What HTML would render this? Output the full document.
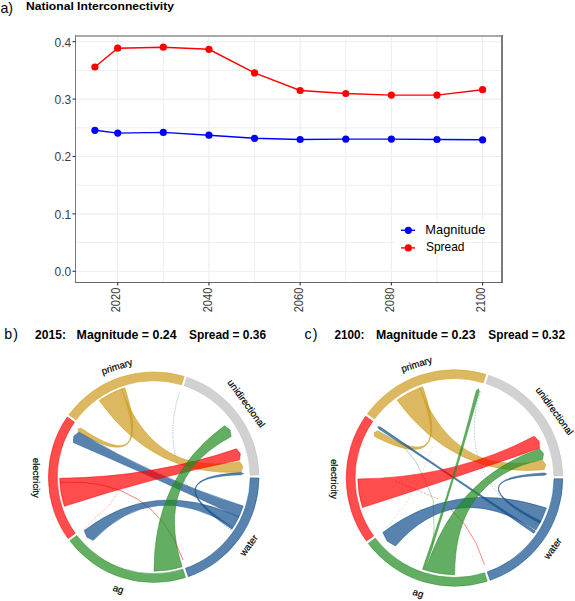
<!DOCTYPE html>
<html><head><meta charset="utf-8"><style>
html,body{margin:0;padding:0;background:#fff;}
svg{display:block;font-family:"Liberation Sans", sans-serif;}
</style></head><body>
<svg width="575" height="601" viewBox="0 0 575 601">
<rect width="575" height="601" fill="#fff"/>
<line x1="163.31" y1="36" x2="163.31" y2="282.5" stroke="#efefef" stroke-width="1"/>
<line x1="254.53" y1="36" x2="254.53" y2="282.5" stroke="#efefef" stroke-width="1"/>
<line x1="345.75" y1="36" x2="345.75" y2="282.5" stroke="#efefef" stroke-width="1"/>
<line x1="436.97" y1="36" x2="436.97" y2="282.5" stroke="#efefef" stroke-width="1"/>
<line x1="75.5" y1="242.60" x2="502" y2="242.60" stroke="#efefef" stroke-width="1"/>
<line x1="75.5" y1="185.20" x2="502" y2="185.20" stroke="#efefef" stroke-width="1"/>
<line x1="75.5" y1="127.80" x2="502" y2="127.80" stroke="#efefef" stroke-width="1"/>
<line x1="75.5" y1="70.40" x2="502" y2="70.40" stroke="#efefef" stroke-width="1"/>
<line x1="117.70" y1="36" x2="117.70" y2="282.5" stroke="#ededed" stroke-width="1.1"/>
<line x1="208.92" y1="36" x2="208.92" y2="282.5" stroke="#ededed" stroke-width="1.1"/>
<line x1="300.14" y1="36" x2="300.14" y2="282.5" stroke="#ededed" stroke-width="1.1"/>
<line x1="391.36" y1="36" x2="391.36" y2="282.5" stroke="#ededed" stroke-width="1.1"/>
<line x1="482.58" y1="36" x2="482.58" y2="282.5" stroke="#ededed" stroke-width="1.1"/>
<line x1="75.5" y1="271.30" x2="502" y2="271.30" stroke="#ededed" stroke-width="1.1"/>
<line x1="75.5" y1="213.90" x2="502" y2="213.90" stroke="#ededed" stroke-width="1.1"/>
<line x1="75.5" y1="156.50" x2="502" y2="156.50" stroke="#ededed" stroke-width="1.1"/>
<line x1="75.5" y1="99.10" x2="502" y2="99.10" stroke="#ededed" stroke-width="1.1"/>
<line x1="75.5" y1="41.70" x2="502" y2="41.70" stroke="#ededed" stroke-width="1.1"/>
<rect x="395" y="220" width="95" height="17" fill="#fff"/>
<rect x="395" y="237" width="70" height="19" fill="#fff"/>
<line x1="75.5" y1="36" x2="502" y2="36" stroke="#a9a9a9" stroke-width="2"/>
<line x1="502" y1="35" x2="502" y2="283" stroke="#7a7a7a" stroke-width="2"/>
<line x1="75.5" y1="35" x2="75.5" y2="283" stroke="#787878" stroke-width="1"/>
<line x1="75" y1="282.5" x2="503" y2="282.5" stroke="#666" stroke-width="1"/>
<line x1="72.5" y1="271.30" x2="75.5" y2="271.30" stroke="#333" stroke-width="1.1"/>
<text x="71.3" y="276.20" font-size="12" fill="#3d3d3d" text-anchor="end">0.0</text>
<line x1="72.5" y1="213.90" x2="75.5" y2="213.90" stroke="#333" stroke-width="1.1"/>
<text x="71.3" y="218.80" font-size="12" fill="#3d3d3d" text-anchor="end">0.1</text>
<line x1="72.5" y1="156.50" x2="75.5" y2="156.50" stroke="#333" stroke-width="1.1"/>
<text x="71.3" y="161.40" font-size="12" fill="#3d3d3d" text-anchor="end">0.2</text>
<line x1="72.5" y1="99.10" x2="75.5" y2="99.10" stroke="#333" stroke-width="1.1"/>
<text x="71.3" y="104.00" font-size="12" fill="#3d3d3d" text-anchor="end">0.3</text>
<line x1="72.5" y1="41.70" x2="75.5" y2="41.70" stroke="#333" stroke-width="1.1"/>
<text x="71.3" y="46.60" font-size="12" fill="#3d3d3d" text-anchor="end">0.4</text>
<line x1="117.70" y1="282.5" x2="117.70" y2="285.5" stroke="#333" stroke-width="1.1"/>
<text transform="translate(120.30,287.7) rotate(-90)" font-size="12" fill="#3d3d3d" text-anchor="end" textLength="24.6" lengthAdjust="spacingAndGlyphs">2020</text>
<line x1="208.92" y1="282.5" x2="208.92" y2="285.5" stroke="#333" stroke-width="1.1"/>
<text transform="translate(211.52,287.7) rotate(-90)" font-size="12" fill="#3d3d3d" text-anchor="end" textLength="24.6" lengthAdjust="spacingAndGlyphs">2040</text>
<line x1="300.14" y1="282.5" x2="300.14" y2="285.5" stroke="#333" stroke-width="1.1"/>
<text transform="translate(302.74,287.7) rotate(-90)" font-size="12" fill="#3d3d3d" text-anchor="end" textLength="24.6" lengthAdjust="spacingAndGlyphs">2060</text>
<line x1="391.36" y1="282.5" x2="391.36" y2="285.5" stroke="#333" stroke-width="1.1"/>
<text transform="translate(393.96,287.7) rotate(-90)" font-size="12" fill="#3d3d3d" text-anchor="end" textLength="24.6" lengthAdjust="spacingAndGlyphs">2080</text>
<line x1="482.58" y1="282.5" x2="482.58" y2="285.5" stroke="#333" stroke-width="1.1"/>
<text transform="translate(485.18,287.7) rotate(-90)" font-size="12" fill="#3d3d3d" text-anchor="end" textLength="24.6" lengthAdjust="spacingAndGlyphs">2100</text>
<polyline points="94.90,67.00 117.70,48.20 163.31,47.20 208.92,49.30 254.53,72.90 300.14,90.50 345.75,93.50 391.36,95.10 436.97,95.10 482.58,89.70" fill="none" stroke="#ff0000" stroke-width="1.4"/>
<circle cx="94.90" cy="67.00" r="3.6" fill="#ff0000"/>
<circle cx="117.70" cy="48.20" r="3.6" fill="#ff0000"/>
<circle cx="163.31" cy="47.20" r="3.6" fill="#ff0000"/>
<circle cx="208.92" cy="49.30" r="3.6" fill="#ff0000"/>
<circle cx="254.53" cy="72.90" r="3.6" fill="#ff0000"/>
<circle cx="300.14" cy="90.50" r="3.6" fill="#ff0000"/>
<circle cx="345.75" cy="93.50" r="3.6" fill="#ff0000"/>
<circle cx="391.36" cy="95.10" r="3.6" fill="#ff0000"/>
<circle cx="436.97" cy="95.10" r="3.6" fill="#ff0000"/>
<circle cx="482.58" cy="89.70" r="3.6" fill="#ff0000"/>
<polyline points="94.90,130.30 117.70,133.10 163.31,132.40 208.92,135.20 254.53,138.30 300.14,139.50 345.75,139.10 391.36,139.10 436.97,139.50 482.58,139.80" fill="none" stroke="#0000ff" stroke-width="1.4"/>
<circle cx="94.90" cy="130.30" r="3.6" fill="#0000ff"/>
<circle cx="117.70" cy="133.10" r="3.6" fill="#0000ff"/>
<circle cx="163.31" cy="132.40" r="3.6" fill="#0000ff"/>
<circle cx="208.92" cy="135.20" r="3.6" fill="#0000ff"/>
<circle cx="254.53" cy="138.30" r="3.6" fill="#0000ff"/>
<circle cx="300.14" cy="139.50" r="3.6" fill="#0000ff"/>
<circle cx="345.75" cy="139.10" r="3.6" fill="#0000ff"/>
<circle cx="391.36" cy="139.10" r="3.6" fill="#0000ff"/>
<circle cx="436.97" cy="139.50" r="3.6" fill="#0000ff"/>
<circle cx="482.58" cy="139.80" r="3.6" fill="#0000ff"/>
<line x1="401" y1="230.3" x2="415" y2="230.3" stroke="#0000ff" stroke-width="1.4"/>
<circle cx="408.3" cy="230.3" r="3.6" fill="#0000ff"/>
<line x1="401" y1="247.9" x2="415" y2="247.9" stroke="#ff0000" stroke-width="1.4"/>
<circle cx="408.3" cy="247.9" r="3.6" fill="#ff0000"/>
<text x="425.3" y="234" font-size="12.6" fill="#000" textLength="60" lengthAdjust="spacingAndGlyphs">Magnitude</text>
<text x="426" y="251" font-size="12.6" fill="#000" textLength="38.5" lengthAdjust="spacingAndGlyphs">Spread</text>
<text x="0.4" y="12.6" font-size="14.2" fill="#000">a)</text>
<text x="26.0" y="10.2" font-size="11.6" font-weight="bold" fill="#000" textLength="148" lengthAdjust="spacingAndGlyphs">National Interconnectivity</text>
<text x="4.2" y="338.8" font-size="14.2" fill="#000">b<tspan dx="1.2">)</tspan></text>
<text x="35" y="339.3" font-size="12" font-weight="bold" fill="#000" textLength="31" lengthAdjust="spacingAndGlyphs">2015:</text>
<text x="76.6" y="339.3" font-size="12" font-weight="bold" fill="#000" textLength="100" lengthAdjust="spacingAndGlyphs">Magnitude = 0.24</text>
<text x="189" y="339.3" font-size="12" font-weight="bold" fill="#000" textLength="77" lengthAdjust="spacingAndGlyphs">Spread = 0.36</text>
<text x="304.4" y="338.8" font-size="14.2" fill="#000">c<tspan dx="1.2">)</tspan></text>
<text x="334.5" y="339.3" font-size="12" font-weight="bold" fill="#000" textLength="30" lengthAdjust="spacingAndGlyphs">2100:</text>
<text x="376" y="339.3" font-size="12" font-weight="bold" fill="#000" textLength="99.5" lengthAdjust="spacingAndGlyphs">Magnitude = 0.23</text>
<text x="488.3" y="339.3" font-size="12" font-weight="bold" fill="#000" textLength="76.7" lengthAdjust="spacingAndGlyphs">Spread = 0.32</text>
<path d="M68.94,414.71 A105.3,105.3 0 0 1 184.14,376.39 L181.59,384.82 A96.5,96.5 0 0 0 76.03,419.94 Z" fill="#cd9b1d" fill-opacity="0.7" stroke="#cd9b1d" stroke-opacity="0.7" stroke-width="0.7"/>
<path d="M186.94,377.28 A105.3,105.3 0 0 1 258.98,474.99 L250.18,475.18 A96.5,96.5 0 0 0 184.16,385.63 Z" fill="#bebebe" fill-opacity="0.7" stroke="#bebebe" stroke-opacity="0.7" stroke-width="0.7"/>
<path d="M259.00,477.94 A105.3,105.3 0 0 1 188.33,576.64 L185.44,568.33 A96.5,96.5 0 0 0 250.20,477.87 Z" fill="#104e8b" fill-opacity="0.7" stroke="#104e8b" stroke-opacity="0.7" stroke-width="0.7"/>
<path d="M185.54,577.57 A105.3,105.3 0 0 1 69.83,540.86 L76.83,535.54 A96.5,96.5 0 0 0 182.88,569.18 Z" fill="#228b22" fill-opacity="0.7" stroke="#228b22" stroke-opacity="0.7" stroke-width="0.7"/>
<path d="M68.08,538.50 A105.3,105.3 0 0 1 67.23,417.10 L74.46,422.13 A96.5,96.5 0 0 0 75.24,533.37 Z" fill="#ff0000" fill-opacity="0.7" stroke="#ff0000" stroke-opacity="0.7" stroke-width="0.7"/>
<path d="M231.35,530.17 Q153.70,477.20 179.13,392.96" fill="none" stroke="#104e8b" stroke-width="0.7" stroke-opacity="0.45" stroke-dasharray="1.5,1"/>
<path d="M59.83,482.12 Q153.70,477.20 183.08,560.15" fill="none" stroke="#ff0000" stroke-width="0.7" stroke-opacity="0.75"/>
<path d="M83.60,530.00 96.00,517.00 109.80,505.00 118.00,492.00" fill="none" stroke="#ff0000" stroke-width="0.7" stroke-opacity="0.4" stroke-linejoin="round" stroke-dasharray="2,1.2"/>
<path d="M99.25,400.58 A94.0,94.0 0 0 1 121.55,388.87 Q153.70,477.20 239.82,461.71 L242.88,466.65 L241.05,472.16 Q153.70,477.20 99.25,400.58 Z" fill="#cd9b1d" fill-opacity="0.7" stroke="#cd9b1d" stroke-opacity="0.7" stroke-width="0.7"/>
<path d="M121.55,388.87 A94.0,94.0 0 0 1 124.81,387.75 Q153.70,477.20 78.70,432.13 L77.96,428.95 L81.16,428.27 Q153.70,477.20 121.55,388.87 Z" fill="#cd9b1d" fill-opacity="0.7" stroke="#cd9b1d" stroke-opacity="0.7" stroke-width="0.7"/>
<path d="M243.15,506.09 A94.0,94.0 0 0 1 238.89,516.93 Q153.70,477.20 73.34,442.59 L73.79,436.22 L78.70,432.13 Q153.70,477.20 243.15,506.09 Z" fill="#104e8b" fill-opacity="0.7" stroke="#104e8b" stroke-opacity="0.7" stroke-width="0.7"/>
<path d="M238.89,516.93 A94.0,94.0 0 0 1 233.24,527.29 Q153.70,477.20 93.14,540.35 L86.81,537.11 L84.28,530.47 Q153.70,477.20 238.89,516.93 Z" fill="#104e8b" fill-opacity="0.7" stroke="#104e8b" stroke-opacity="0.7" stroke-width="0.7"/>
<path d="M233.07,527.57 A94.0,94.0 0 0 1 231.99,529.22 Q153.70,477.20 241.08,472.62 L243.43,473.60 L241.17,474.76 Q153.70,477.20 233.07,527.57 Z" fill="#104e8b" fill-opacity="0.7" stroke="#104e8b" stroke-opacity="0.7" stroke-width="0.7"/>
<path d="M64.30,506.25 A94.0,94.0 0 0 1 59.71,478.35 Q153.70,477.20 236.48,448.86 L240.40,453.81 L239.50,460.05 Q153.70,477.20 64.30,506.25 Z" fill="#ff0000" fill-opacity="0.7" stroke="#ff0000" stroke-opacity="0.7" stroke-width="0.7"/>
<path d="M182.12,566.80 A94.0,94.0 0 0 1 154.03,571.20 Q153.70,477.20 224.49,425.77 L229.98,429.81 L231.17,436.53 Q153.70,477.20 182.12,566.80 Z" fill="#228b22" fill-opacity="0.7" stroke="#228b22" stroke-opacity="0.7" stroke-width="0.7"/>
<text transform="translate(116.78,366.39) rotate(-18)" font-size="9.6" fill="#000" stroke="#000" stroke-width="0.2" text-anchor="middle" dominant-baseline="central">primary</text>
<text transform="translate(246.57,403.32) rotate(54)" font-size="9.6" fill="#000" stroke="#000" stroke-width="0.2" text-anchor="middle" dominant-baseline="central">unidirectional</text>
<text transform="translate(248.57,545.18) rotate(-54)" font-size="9.6" fill="#000" stroke="#000" stroke-width="0.2" text-anchor="middle" dominant-baseline="central">water</text>
<text transform="translate(118.38,588.71) rotate(18)" font-size="9.6" fill="#000" stroke="#000" stroke-width="0.2" text-anchor="middle" dominant-baseline="central">ag</text>
<text transform="translate(36.10,477.80) rotate(90)" font-size="9.6" fill="#000" stroke="#000" stroke-width="0.2" text-anchor="middle" dominant-baseline="central">electricity</text>
<path d="M367.33,413.73 A108.3,108.3 0 0 1 485.80,374.32 L483.26,382.75 A99.5,99.5 0 0 0 374.41,418.95 Z" fill="#cd9b1d" fill-opacity="0.7" stroke="#cd9b1d" stroke-opacity="0.7" stroke-width="0.7"/>
<path d="M488.68,375.24 A108.3,108.3 0 0 1 562.78,475.73 L553.98,475.92 A99.5,99.5 0 0 0 485.91,383.59 Z" fill="#bebebe" fill-opacity="0.7" stroke="#bebebe" stroke-opacity="0.7" stroke-width="0.7"/>
<path d="M562.80,478.76 A108.3,108.3 0 0 1 490.12,580.28 L487.22,571.97 A99.5,99.5 0 0 0 554.00,478.69 Z" fill="#104e8b" fill-opacity="0.7" stroke="#104e8b" stroke-opacity="0.7" stroke-width="0.7"/>
<path d="M487.25,581.23 A108.3,108.3 0 0 1 368.24,543.48 L375.25,538.16 A99.5,99.5 0 0 0 484.59,572.84 Z" fill="#228b22" fill-opacity="0.7" stroke="#228b22" stroke-opacity="0.7" stroke-width="0.7"/>
<path d="M366.44,541.04 A108.3,108.3 0 0 1 365.57,416.19 L372.80,421.21 A99.5,99.5 0 0 0 373.60,535.92 Z" fill="#ff0000" fill-opacity="0.7" stroke="#ff0000" stroke-opacity="0.7" stroke-width="0.7"/>
<path d="M538.64,525.61 Q454.50,478.00 480.36,391.26" fill="none" stroke="#104e8b" stroke-width="0.7" stroke-opacity="0.45" stroke-dasharray="1.5,1.5"/>
<path d="M450.40,508.70 465.00,525.00 476.00,543.00 484.50,564.70" fill="none" stroke="#ff0000" stroke-width="0.8" stroke-opacity="0.6" stroke-linejoin="round"/>
<path d="M378.00,431.00 395.00,440.00 405.00,448.30 416.00,462.00 424.90,480.00 433.20,500.00 434.00,530.00 432.00,548.00" fill="none" stroke="#228b22" stroke-width="0.7" stroke-opacity="0.5" stroke-linejoin="round"/>
<path d="M395.00,480.70 417.00,490.00 438.20,499.00" fill="none" stroke="#ff0000" stroke-width="0.8" stroke-opacity="0.5" stroke-linejoin="round" stroke-dasharray="2,1.5"/>
<path d="M386.60,528.00 405.00,505.00 420.00,478.00 433.20,445.00" fill="none" stroke="#cd9b1d" stroke-width="0.8" stroke-opacity="0.4" stroke-linejoin="round" stroke-dasharray="2,2"/>
<path d="M397.13,400.18 A96.67806267806267,96.67806267806267 0 0 1 419.85,387.74 Q454.50,478.00 542.78,460.52 L545.85,464.84 L544.12,469.84 Q454.50,478.00 397.13,400.18 Z" fill="#cd9b1d" fill-opacity="0.7" stroke="#cd9b1d" stroke-opacity="0.7" stroke-width="0.7"/>
<path d="M419.85,387.74 A96.67806267806267,96.67806267806267 0 0 1 422.71,386.70 Q454.50,478.00 374.68,436.45 L374.17,432.55 L377.77,430.98 Q454.50,478.00 419.85,387.74 Z" fill="#cd9b1d" fill-opacity="0.7" stroke="#cd9b1d" stroke-opacity="0.7" stroke-width="0.7"/>
<path d="M535.30,531.08 A96.67806267806267,96.67806267806267 0 0 1 533.79,533.31 Q454.50,478.00 379.03,428.99 L377.76,426.72 L380.33,427.03 Q454.50,478.00 535.30,531.08 Z" fill="#104e8b" fill-opacity="0.7" stroke="#104e8b" stroke-opacity="0.7" stroke-width="0.7"/>
<path d="M546.39,508.04 A96.67806267806267,96.67806267806267 0 0 1 535.95,530.09 Q454.50,478.00 395.46,545.92 L387.11,541.06 L382.82,532.41 Q454.50,478.00 546.39,508.04 Z" fill="#104e8b" fill-opacity="0.7" stroke="#104e8b" stroke-opacity="0.7" stroke-width="0.7"/>
<path d="M540.95,521.29 A96.67806267806267,96.67806267806267 0 0 1 539.94,523.24 Q454.50,478.00 544.35,472.98 L546.71,473.97 L544.45,475.17 Q454.50,478.00 540.95,521.29 Z" fill="#104e8b" fill-opacity="0.7" stroke="#104e8b" stroke-opacity="0.7" stroke-width="0.7"/>
<path d="M362.45,507.55 A96.67806267806267,96.67806267806267 0 0 1 357.83,479.01 Q454.50,478.00 534.25,436.31 L539.17,441.27 L539.44,448.26 Q454.50,478.00 362.45,507.55 Z" fill="#ff0000" fill-opacity="0.7" stroke="#ff0000" stroke-opacity="0.7" stroke-width="0.7"/>
<path d="M454.67,574.68 A96.67806267806267,96.67806267806267 0 0 1 425.59,570.25 Q454.50,478.00 539.59,448.70 L543.46,453.41 L542.56,459.44 Q454.50,478.00 454.67,574.68 Z" fill="#228b22" fill-opacity="0.7" stroke="#228b22" stroke-opacity="0.7" stroke-width="0.7"/>
<path d="M425.11,570.10 A96.67806267806267,96.67806267806267 0 0 1 422.55,569.24 Q454.50,478.00 476.27,390.68 L478.39,388.85 L479.31,391.49 Q454.50,478.00 425.11,570.10 Z" fill="#228b22" fill-opacity="0.7" stroke="#228b22" stroke-opacity="0.7" stroke-width="0.7"/>
<text transform="translate(416.55,364.04) rotate(-18)" font-size="9.6" fill="#000" stroke="#000" stroke-width="0.2" text-anchor="middle" dominant-baseline="central">primary</text>
<text transform="translate(554.70,410.75) rotate(54)" font-size="9.6" fill="#000" stroke="#000" stroke-width="0.2" text-anchor="middle" dominant-baseline="central">unidirectional</text>
<text transform="translate(552.50,548.35) rotate(-54)" font-size="9.6" fill="#000" stroke="#000" stroke-width="0.2" text-anchor="middle" dominant-baseline="central">water</text>
<text transform="translate(418.25,592.86) rotate(18)" font-size="9.6" fill="#000" stroke="#000" stroke-width="0.2" text-anchor="middle" dominant-baseline="central">ag</text>
<text transform="translate(334.40,479.00) rotate(90)" font-size="9.6" fill="#000" stroke="#000" stroke-width="0.2" text-anchor="middle" dominant-baseline="central">electricity</text>
</svg></body></html>
